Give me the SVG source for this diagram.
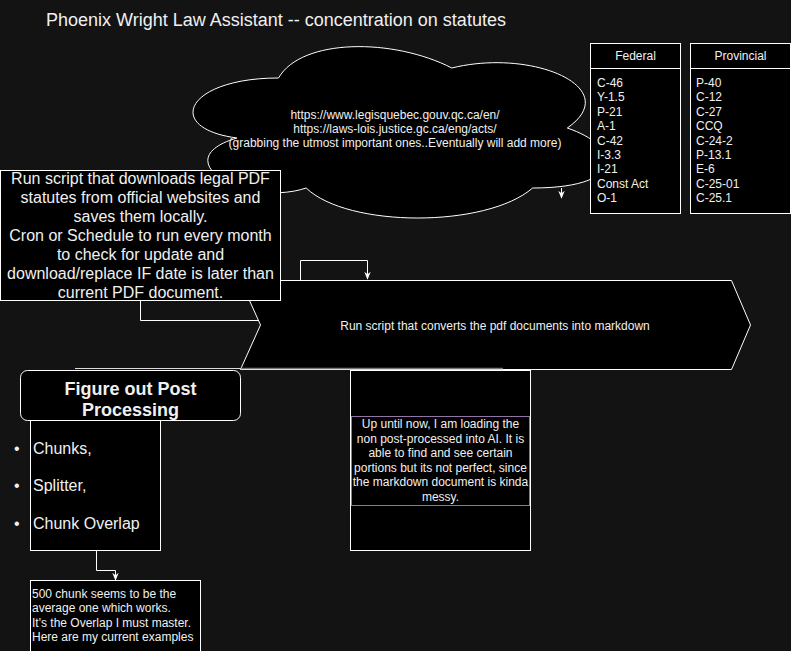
<svg xmlns="http://www.w3.org/2000/svg" width="791" height="651" viewBox="0 0 791 651">
<style>
.bg{fill:#131313}
.n{fill:#000000;stroke:#ffffff;stroke-width:1}
.t{font-family:"Liberation Sans",Arial,sans-serif;fill:#f0f0f0}
.c{text-anchor:middle}
.s12{font-size:12px}
.s16{font-size:16px}
.e{fill:none;stroke:#ffffff;stroke-width:1}
</style>
<defs>
<marker id="ah" viewBox="0 0 10 10" refX="9" refY="5" markerWidth="8" markerHeight="8" orient="auto" markerUnits="userSpaceOnUse">
<path d="M0,1 L10,5 L0,9 L3,5 Z" fill="#ffffff"/>
</marker>
</defs>
<rect class="bg" x="0" y="0" width="791" height="651"/>
<text class="t" x="46" y="26" font-size="18">Phoenix Wright Law Assistant -- concentration on statutes</text>

<g id="cloud">
<path class="n" d="M278.5,78 C186.1,78 163,128 236.9,138 C163,160 246.2,208 306.2,188 C347.8,228 486.4,228 532.6,188 C625,188 625,148 567.3,128 C625,88 532.6,48 451.8,68 C393.5,38 301.6,38 278.5,78 Z"/>
<text class="t c s12" x="395" y="119">https://www.legisquebec.gouv.qc.ca/en/</text>
<text class="t c s12" x="395" y="133">https://laws-lois.justice.gc.ca/eng/acts/</text>
<text class="t c s12" x="395" y="147">(grabbing the utmost important ones..Eventually will add more)</text>
</g>

<g id="federal">
<rect class="n" x="590.5" y="43.5" width="90" height="170"/>
<line class="e" x1="590.5" y1="68.5" x2="680.5" y2="68.5"/>
<text class="t c s12" x="635.5" y="60">Federal</text>
<text class="t s12" x="597" y="87">C-46</text>
<text class="t s12" x="597" y="101.4">Y-1.5</text>
<text class="t s12" x="597" y="115.8">P-21</text>
<text class="t s12" x="597" y="130.2">A-1</text>
<text class="t s12" x="597" y="144.6">C-42</text>
<text class="t s12" x="597" y="159">I-3.3</text>
<text class="t s12" x="597" y="173.4">I-21</text>
<text class="t s12" x="597" y="187.8">Const Act</text>
<text class="t s12" x="597" y="202.2">O-1</text>
</g>

<g id="provincial">
<rect class="n" x="690.5" y="43.5" width="100" height="170"/>
<line class="e" x1="690.5" y1="68.5" x2="790.5" y2="68.5"/>
<text class="t c s12" x="740.5" y="60">Provincial</text>
<text class="t s12" x="696" y="87">P-40</text>
<text class="t s12" x="696" y="101.4">C-12</text>
<text class="t s12" x="696" y="115.8">C-27</text>
<text class="t s12" x="696" y="130.2">CCQ</text>
<text class="t s12" x="696" y="144.6">C-24-2</text>
<text class="t s12" x="696" y="159">P-13.1</text>
<text class="t s12" x="696" y="173.4">E-6</text>
<text class="t s12" x="696" y="187.8">C-25-01</text>
<text class="t s12" x="696" y="202.2">C-25.1</text>
</g>

<g id="convert">
<path class="n" d="M240.5,280.5 L731.5,280.5 L750.5,325 L731.5,369.5 L240.5,369.5 L260.5,325 Z"/>
<text class="t c s12" x="495" y="330">Run script that converts the pdf documents into markdown</text>
</g>

<g id="connectors">
<path class="e" d="M140.5,301 L140.5,320.5 L258,320.5"/>
<path class="e" d="M300.5,280 L300.5,260.5 L367.5,260.5 L367.5,279" marker-end="url(#ah)"/>
<path class="e" d="M561.5,188 L561.5,198" marker-end="url(#ah)"/>
<path class="e" d="M96.5,550 L96.5,570.5 L115.5,570.5 L115.5,580" marker-end="url(#ah)"/>
<line x1="75" y1="368.5" x2="241" y2="368.5" stroke="#dddddd" stroke-width="1"/>
<line x1="241" y1="368.5" x2="503" y2="368.5" stroke="#777777" stroke-width="1.5"/>
</g>

<g id="download">
<rect class="n" x="0.5" y="170.5" width="280" height="130"/>
<text class="t c s16" x="140.5" y="184">Run script that downloads legal PDF</text>
<text class="t c s16" x="140.5" y="203">statutes from official websites and</text>
<text class="t c s16" x="140.5" y="222">saves them locally.</text>
<text class="t c s16" x="140.5" y="241">Cron or Schedule to run every month</text>
<text class="t c s16" x="140.5" y="260">to check for update and</text>
<text class="t c s16" x="140.5" y="279">download/replace IF date is later than</text>
<text class="t c s16" x="140.5" y="298">current PDF document.</text>
</g>

<g id="list">
<rect class="n" x="30.5" y="372.5" width="130" height="178"/>
<text class="t s16" x="14" y="454">•</text>
<text class="t s16" x="33" y="454">Chunks,</text>
<text class="t s16" x="14" y="491">•</text>
<text class="t s16" x="33" y="491">Splitter,</text>
<text class="t s16" x="14" y="529">•</text>
<text class="t s16" x="33" y="529">Chunk Overlap</text>
</g>

<g id="postproc">
<rect class="n" x="20.5" y="370.5" width="220" height="50" rx="7" ry="7"/>
<text class="t c" x="130.5" y="395" font-size="18" font-weight="bold">Figure out Post</text>
<text class="t c" x="130.5" y="416" font-size="18" font-weight="bold">Processing</text>
</g>

<g id="midbox">
<rect class="n" x="350.5" y="370.5" width="180" height="180"/>
<rect x="351.5" y="416.5" width="178" height="89" fill="#000000" stroke="#9673a6" stroke-width="1"/>
<text class="t c s12" x="440.5" y="428">Up until now, I am loading the</text>
<text class="t c s12" x="440.5" y="442.5">non post-processed into AI. It is</text>
<text class="t c s12" x="440.5" y="457">able to find and see certain</text>
<text class="t c s12" x="440.5" y="471.5">portions but its not perfect, since</text>
<text class="t c s12" x="440.5" y="486">the markdown document is kinda</text>
<text class="t c s12" x="440.5" y="500.5">messy.</text>
</g>

<g id="note">
<rect class="n" x="30.5" y="580.5" width="170" height="80"/>
<text class="t s12" x="32" y="597.5">500 chunk seems to be the</text>
<text class="t s12" x="32" y="612">average one which works.</text>
<text class="t s12" x="32" y="626.5">It's the Overlap I must master.</text>
<text class="t s12" x="32" y="641">Here are my current examples</text>
</g>
</svg>
